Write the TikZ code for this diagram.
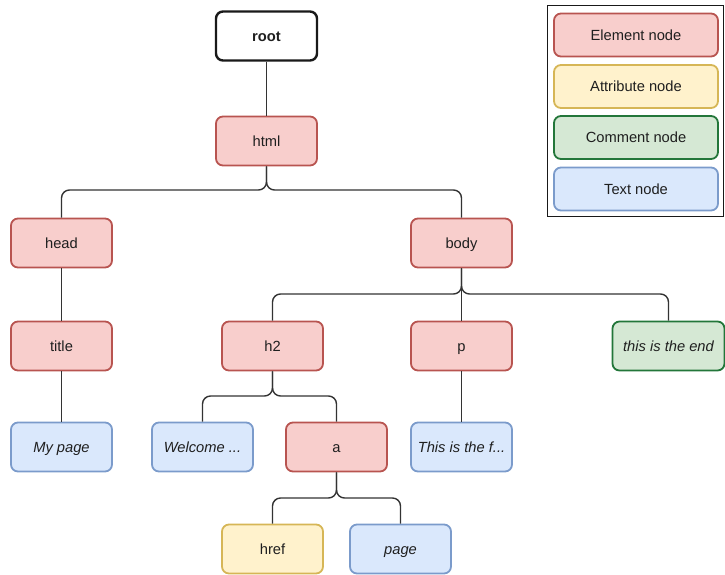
\documentclass[tikz,border=0pt]{standalone}
\usepackage{fontspec}
\setmainfont{Liberation Sans}
\definecolor{elemfill}{HTML}{F8CECC}
\definecolor{elemline}{HTML}{B85450}
\definecolor{attrfill}{HTML}{FFF2CC}
\definecolor{attrline}{HTML}{D6B656}
\definecolor{commfill}{HTML}{D5E8D4}
\definecolor{commline}{HTML}{23763A}
\definecolor{textfill}{HTML}{DAE8FC}
\definecolor{textline}{HTML}{7B9BCB}
\definecolor{wire}{HTML}{333333}
\begin{document}
\begin{tikzpicture}[x=1pt,y=-1pt,
  box/.style={rectangle, rounded corners=7pt, line width=1.8pt, inner sep=0pt,
    minimum width=101pt, minimum height=49pt, text=black!88,
    text height=10.5pt, text depth=0.5pt,
    font=\fontsize{14.7}{17}\selectfont},
  elem/.style={box, draw=elemline, fill=elemfill},
  attr/.style={box, draw=attrline, fill=attrfill},
  comm/.style={box, draw=commline, fill=commfill, font=\fontsize{14.7}{17}\selectfont\itshape},
  txt/.style={box, draw=textline, fill=textfill, font=\fontsize{14.7}{17}\selectfont\itshape},
  rootbox/.style={box, draw=black!90, fill=white, line width=2.4pt, font=\fontsize{14.7}{17}\selectfont\bfseries},
  legbox/.style={box, minimum width=164pt, minimum height=43pt},
  conn/.style={draw=wire, line width=1.4pt, rounded corners=8pt}]
\useasboundingbox (0,0) rectangle (725,574);

% tree nodes
\node[rootbox] (root) at (266.5,36) {root};
\node[elem] (html) at (266.5,141) {html};
\node[elem] (head) at (61.5,243) {head};
\node[elem] (body) at (461.5,243) {body};
\node[elem] (title) at (61.5,346) {title};
\node[elem] (h2) at (272.5,346) {h2};
\node[elem] (p) at (461.5,346) {p};
\node[comm, minimum width=112pt] (end) at (668.5,346) {this is the end};
\node[txt] (mypage) at (61.5,447) {My page};
\node[txt] (welcome) at (202.5,447) {Welcome ...};
\node[elem] (a) at (336.5,447) {a};
\node[txt] (thisis) at (461.5,447) {This is the f...};
\node[attr] (href) at (272.5,549) {href};
\node[txt] (page) at (400.5,549) {page};

% connectors
\draw[conn] (root) -- (html);
\draw[conn] (html.south) -- (html.south |- 0,190) -| (head.north);
\draw[conn] (html.south) -- (html.south |- 0,190) -| (body.north);
\draw[conn] (head) -- (title);
\draw[conn] (title) -- (mypage);
\draw[conn] (body.south) -- (body.south |- 0,294) -| (h2.north);
\draw[conn] (body) -- (p);
\draw[conn] (body.south) -- (body.south |- 0,294) -| (end.north);
\draw[conn] (h2.south) -- (h2.south |- 0,396) -| (welcome.north);
\draw[conn] (h2.south) -- (h2.south |- 0,396) -| (a.north);
\draw[conn] (p) -- (thisis);
\draw[conn] (a.south) -- (a.south |- 0,498) -| (href.north);
\draw[conn] (a.south) -- (a.south |- 0,498) -| (page.north);

% legend
\node[draw=black!90, line width=1.2pt, minimum width=176pt, minimum height=211pt, inner sep=0pt] (legend) at (635.5,111) {};
\node[legbox, draw=elemline, fill=elemfill] (lelem) at (636,35) {Element node};
\node[legbox, draw=attrline, fill=attrfill] (lattr) at (636,86.5) {Attribute node};
\node[legbox, draw=commline, fill=commfill] (lcomm) at (636,137.5) {Comment node};
\node[legbox, draw=textline, fill=textfill] (ltext) at (636,189) {Text node};
\end{tikzpicture}
\end{document}
